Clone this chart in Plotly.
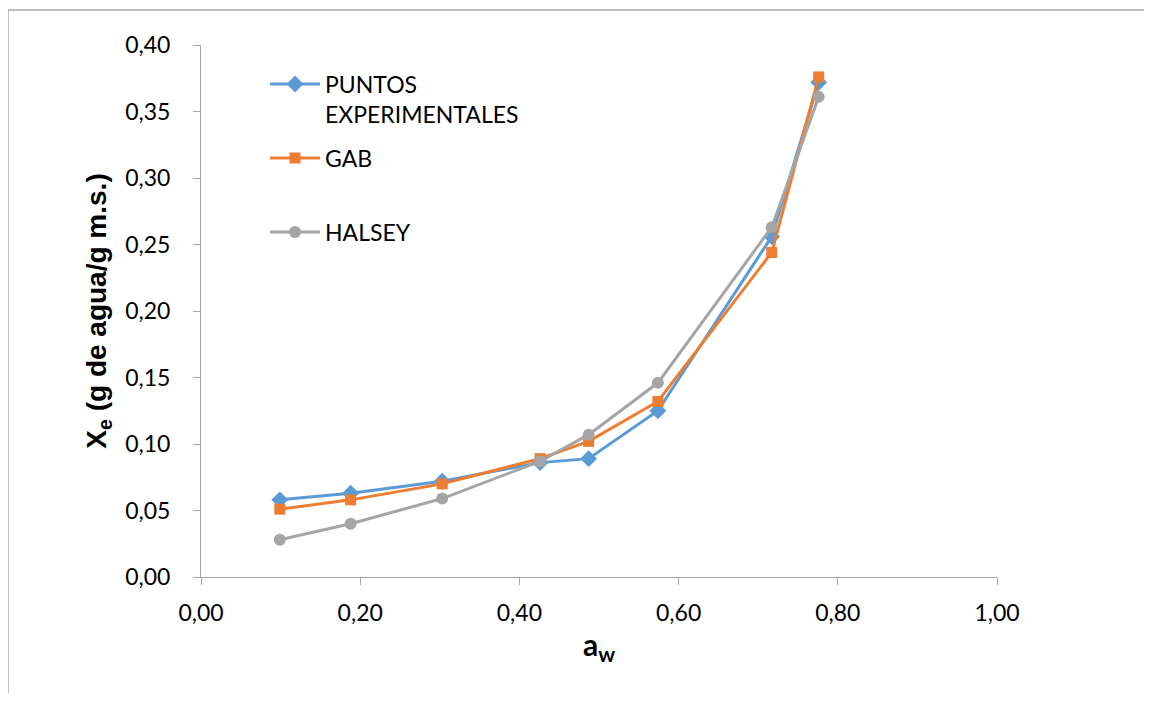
import plotly.graph_objects as go

aw = [0.099, 0.188, 0.303, 0.426, 0.487, 0.574, 0.717, 0.776]
puntos = [0.058, 0.063, 0.072, 0.086, 0.089, 0.125, 0.256, 0.372]
gab = [0.051, 0.058, 0.070, 0.089, 0.102, 0.132, 0.244, 0.376]
halsey = [0.028, 0.040, 0.059, 0.087, 0.107, 0.146, 0.263, 0.361]

names = ["PUNTOS<br>EXPERIMENTALES", "GAB", "HALSEY"]
colors = ["#5B9BD5", "#ED7D31", "#A5A5A5"]
symbols = ["diamond", "square", "circle"]
sizes = [13, 11, 12]
series = [puntos, gab, halsey]
legends = ["legend", "legend2", "legend3"]

# page offset (browser body margin) = 8 px
OFF = 8
L, T, PW, PH = 201 - OFF, 45 - OFF, 796, 532
W, H = 1136, 685

fig = go.Figure()
for i, (nm, ys) in enumerate(zip(names, series)):
    fig.add_trace(go.Scatter(
        x=aw, y=ys, name=nm, mode="lines+markers",
        legend=legends[i],
        line=dict(color=colors[i], width=3),
        marker=dict(symbol=symbols[i], size=sizes[i], color=colors[i]),
    ))

axis_font = dict(family="Lato, sans-serif", size=23, color="#000000")
leg_font = dict(family="Lato, sans-serif", size=23, color="#000000")


def px_to_py(py):
    return (577 - py) / PH


leg_x = (265 - 201) / PW
common = dict(x=leg_x, xanchor="left", yanchor="middle", font=leg_font,
              bgcolor="rgba(0,0,0,0)", itemwidth=50, valign="top")

fig.update_layout(
    width=W, height=H,
    margin=dict(l=L, r=W - L - PW, t=T, b=H - T - PH, autoexpand=False),
    paper_bgcolor="white", plot_bgcolor="white",
    separators=",.",
    showlegend=True,
    legend=dict(y=px_to_py(99), **common),
    legend2=dict(y=px_to_py(158), **common),
    legend3=dict(y=px_to_py(232), **common),
    xaxis=dict(range=[0, 1], dtick=0.2, tick0=0, tickformat=".2f",
               showgrid=False, zeroline=False, showline=True,
               linecolor="#A6A6A6", linewidth=1, ticks="outside",
               tickcolor="#A6A6A6", ticklen=7, tickfont=axis_font,
               ticklabelstandoff=8,
               title=dict(text="<b>a<sub>w</sub></b>",
                          font=dict(family="Lato, sans-serif", size=30, color="#000000"),
                          standoff=10)),
    yaxis=dict(range=[0, 0.40], dtick=0.05, tick0=0, tickformat=".2f",
               showgrid=False, zeroline=False, showline=True,
               linecolor="#A6A6A6", linewidth=1, ticks="outside",
               tickcolor="#A6A6A6", ticklen=7, tickfont=axis_font,
               ticklabelstandoff=18,
               title=dict(text="<b>X<sub>e</sub> (g de agua/g m.s.)</b>",
                          font=dict(family="Liberation Sans, Arial, sans-serif", size=28, color="#000000"),
                          standoff=10)),
)

# outer chart border
fig.add_shape(type="rect", xref="paper", yref="paper",
              x0=(8 - 201) / PW, x1=(1175 - 201) / PW,
              y0=(577 - 730) / PH, y1=(577 - 10) / PH,
              line=dict(color="#ABABAB", width=1.5), fillcolor="rgba(0,0,0,0)", layer="below")

fig.write_html("out.html")
